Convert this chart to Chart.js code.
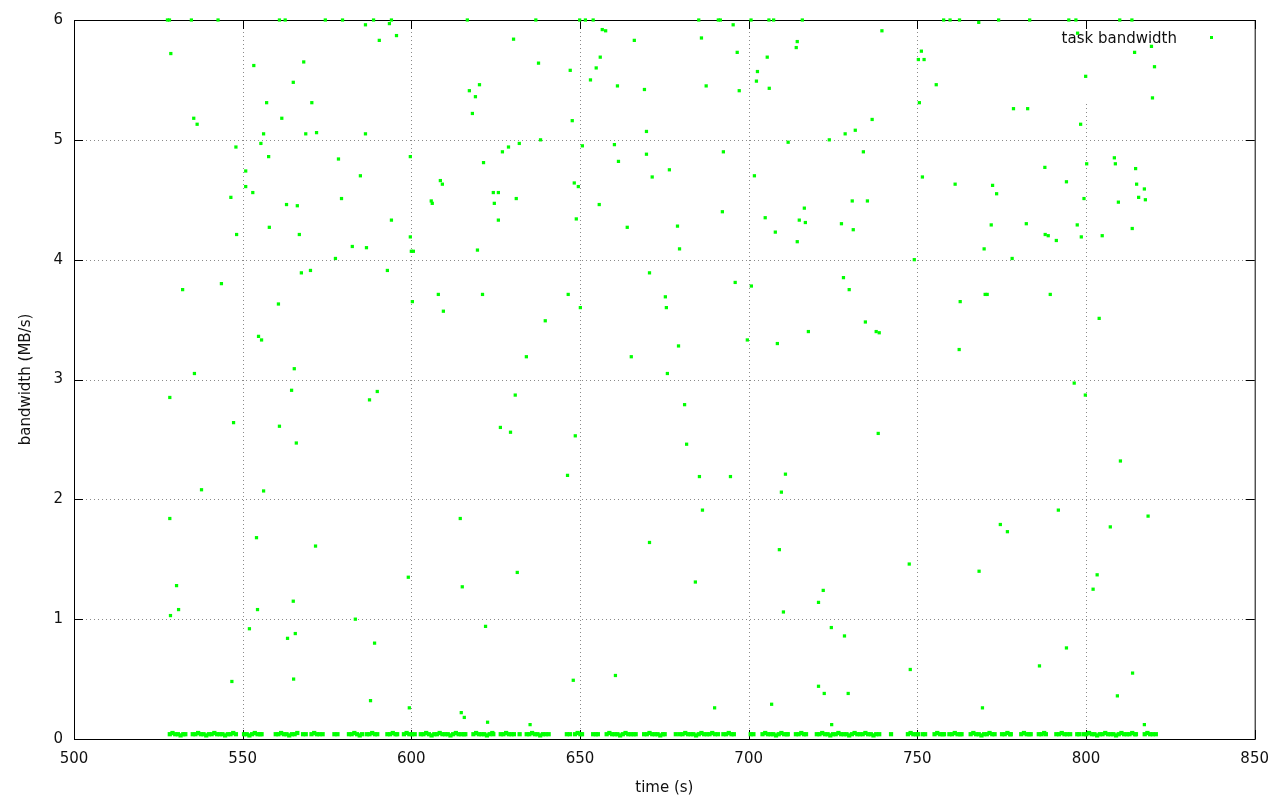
<!DOCTYPE html>
<html><head><meta charset="utf-8">
<script src="https://cdn.jsdelivr.net/npm/chart.js@4/dist/chart.umd.min.js"></script>
<style>html,body{margin:0;padding:0;background:#fff;}</style>
</head><body>
<canvas id="c" width="1280" height="800"></canvas>
<script>
const seriesLabel = 'task bandwidth';
const xTitle = 'time (s)';
const yTitle = 'bandwidth (MB/s)';
const xTickValues = [500, 550, 600, 650, 700, 750, 800, 850];
const yTickValues = [0, 1, 2, 3, 4, 5, 6];

// points pinned at the 6 MB/s ceiling
const topPoints = [[527.7,6],[528.3,6],[534.8,6],[542.7,6],[560.9,6],[562.6,6],[574.5,6],[579.6,6],[588.8,6],[594.1,6],[616.6,6],[636.9,6],[649.9,6],[651.6,6],[653.9,6],[685.2,6],[691.0,6],[691.6,6],[700.7,6],[706.0,6],[707.4,6],[715.9,6],[757.8,6],[759.7,6],[762.5,6],[774.1,6],[783.3,6],[794.9,6],[797.0,6],[810.0,6],[813.6,6],
[586.4,5.96],[593.5,5.97],[656.6,5.92],[657.6,5.91],[695.4,5.96],[739.5,5.91],[768.2,5.98],[797.5,5.89]];

// scattered task samples
const scatterPoints = [[528.7,5.72],[553.3,5.62],[568.1,5.65],[565.0,5.48],[557.1,5.31],[570.5,5.31],[535.5,5.18],[536.5,5.13],[561.6,5.18],[556.2,5.05],[568.7,5.05],[571.9,5.06],[548.0,4.94],[555.4,4.97],[557.7,4.86],[550.9,4.74],[550.9,4.61],[553.0,4.56],[546.5,4.52],
[528.4,2.85],[528.4,1.84],[528.6,1.03],[530.4,1.28],[531.0,1.08],[532.2,3.75],[535.7,3.05],[537.8,2.08],[543.7,3.80],[548.2,4.21],[547.3,2.64],[546.8,0.48],[552.0,0.92],[554.1,1.68],[554.4,1.08],[554.7,3.36],[555.6,3.33],[556.2,2.07],[557.9,4.27],
[560.6,3.63],[560.9,2.61],[563.0,4.46],[563.3,0.84],[564.5,2.91],[565.3,3.09],[565.0,1.15],[565.1,0.50],[565.6,0.88],[565.9,2.47],[566.2,4.45],[566.8,4.21],[567.4,3.89],[570.1,3.91],[571.6,1.61],
[577.5,4.01],[578.4,4.84],[579.3,4.51],[582.5,4.11],[583.4,1.00],[584.9,4.70],[586.4,5.05],[586.7,4.10],[587.6,2.83],[587.9,0.32],[589.1,0.80],[589.9,2.90],[590.5,5.83],[592.9,3.91],[594.1,4.33],[595.6,5.87],[599.1,1.35],[599.4,0.26],[599.7,4.86],[599.7,4.19],[600.0,4.07],[600.6,4.07],[600.3,3.65],
[605.9,4.49],[606.2,4.47],[608.0,3.71],[608.6,4.66],[609.2,4.63],[609.5,3.57],[614.5,1.84],[615.1,1.27],[614.8,0.22],[615.7,0.18],[617.2,5.41],[618.1,5.22],[619.0,5.36],[619.6,4.08],[620.2,5.46],[621.1,3.71],[621.4,4.81],[622.0,0.94],[622.6,0.14],[624.3,4.56],[624.6,4.47],[625.8,4.56],[625.8,4.33],[626.4,2.60],[627.0,4.90],[628.8,4.94],[629.4,2.56],[630.3,5.84],[630.8,2.87],[631.1,4.51],[631.4,1.39],[632.0,4.97],
[634.1,3.19],[635.2,0.12],[637.7,5.64],[638.3,5.00],[639.7,3.49],[646.3,2.20],[646.5,3.71],[647.1,5.58],[648.0,0.49],[647.7,5.16],[648.3,4.64],[648.6,2.53],[648.9,4.34],[649.5,4.61],[650.1,3.60],[650.7,4.95],[653.1,5.50],[654.8,5.60],[655.7,4.46],[656.0,5.69],[660.2,4.96],[660.5,0.53],[661.1,5.45],[661.4,4.82],[664.0,4.27],[665.2,3.19],[666.1,5.83],
[669.1,5.42],[669.7,5.07],[669.7,4.88],[670.6,3.89],[670.6,1.64],[671.4,4.69],[675.3,3.69],[675.6,3.60],[675.9,3.05],[676.5,4.75],[678.9,4.28],[679.2,3.28],[679.5,4.09],[681.0,2.79],[681.6,2.46],[684.2,1.31],[685.4,2.19],[686.0,5.85],[686.3,1.91],[687.4,5.45],[689.9,0.26],[692.2,4.40],[692.5,4.90],[694.6,2.19],[696.0,3.81],[696.6,5.73],[697.2,5.41],[699.6,3.33],
[700.8,3.78],[701.7,4.70],[702.3,5.49],[702.6,5.57],[704.9,4.35],[705.5,5.69],[706.1,5.43],[706.8,0.29],[707.9,4.23],[708.5,3.30],[709.1,1.58],[709.7,2.06],[710.3,1.06],[710.9,2.21],[711.7,4.98],[714.1,5.77],[714.4,5.82],[714.4,4.15],[715.0,4.33],[716.5,4.43],[716.8,4.31],[717.7,3.40],[720.7,1.14],[720.7,0.44],[722.1,1.24],[722.4,0.38],[723.9,5.00],[724.5,0.93],[724.6,0.12],[727.5,4.30],[728.1,3.85],[728.4,0.86],[728.6,5.05],[729.5,0.38],[729.8,3.75],[730.7,4.49],[731.0,4.25],[731.6,5.08],[734.0,4.90],[734.6,3.48],[735.2,4.49],[736.6,5.17],[737.8,3.40],[738.7,3.39],[738.4,2.55],
[747.6,1.46],[747.9,0.58],[749.1,4.00],[750.3,5.67],[750.6,5.31],[751.2,5.74],[751.5,4.69],[752.0,5.67],[755.6,5.46],[761.2,4.63],[762.7,3.65],[762.4,3.25],[769.3,0.26],[768.3,1.40],[769.8,4.09],[770.1,3.71],[770.7,3.71],[771.9,4.29],[772.3,4.62],[773.5,4.55],[774.6,1.79],[776.7,1.73],[778.1,4.01],[778.5,5.26],[782.7,5.26],[782.3,4.30],
[786.2,0.61],[787.8,4.77],[787.9,4.21],[788.8,4.20],[789.4,3.71],[791.2,4.16],[791.8,1.91],[794.2,0.76],[794.2,4.65],[796.5,2.97],[797.4,4.29],[798.4,5.13],[798.6,4.19],[799.4,4.51],[799.8,2.87],[799.9,5.53],[800.2,4.80],[802.1,1.25],[803.3,1.37],[803.9,3.51],[804.8,4.20],[807.2,1.77],[808.4,4.85],[808.7,4.80],[809.3,0.36],[809.6,4.48],[810.2,2.32],[813.8,0.55],[813.7,4.26],[814.4,5.73],[814.7,4.76],[815.0,4.63],[815.6,4.52],[817.3,0.12],[817.3,4.59],[817.6,4.50],[818.4,1.86],[819.4,5.78],[820.3,5.61],[819.7,5.35]];

// near-zero samples along the floor
const floorPoints = [[528.4,.04],[529.2,.05],[530.0,.04],[530.8,.04],[531.6,.03],[532.4,.04],[533.0,.04],
[535.2,.04],[536.0,.04],[536.8,.05],[537.6,.04],[538.4,.04],[539.2,.03],[540.0,.04],[540.8,.04],[541.6,.05],[542.4,.04],[543.2,.04],[544.0,.04],[544.8,.03],[545.6,.04],[546.4,.04],[547.2,.05],[548.0,.04],
[550.4,.04],[551.2,.04],[552.0,.03],[552.8,.04],[553.6,.05],[554.4,.04],[555.2,.04],[555.6,.04],
[559.8,.04],[560.6,.04],[561.4,.05],[562.2,.04],[563.0,.04],[563.8,.03],[564.6,.04],[565.4,.04],[566.2,.05],
[567.9,.04],[568.7,.04],[570.4,.04],[571.2,.05],[572.0,.04],[572.8,.04],[573.7,.04],[577.2,.04],[578.1,.04],
[581.5,.04],[582.3,.04],[583.1,.05],[583.9,.04],[584.7,.03],[585.4,.04],
[586.8,.04],[587.6,.04],[588.4,.05],[589.2,.04],[589.9,.04],
[592.9,.04],[593.7,.04],[594.5,.05],[595.3,.04],[595.8,.04],
[597.8,.04],[598.6,.05],[599.4,.04],[600.2,.04],[601.0,.04],
[602.8,.04],[603.6,.04],[604.4,.05],[605.2,.04],[606.0,.03],[606.8,.04],[607.6,.04],[608.4,.05],[609.2,.04],[610.0,.04],[610.8,.04],[611.6,.03],[612.4,.04],[613.2,.05],[614.0,.04],[614.8,.04],[615.6,.04],[616.0,.04],
[618.4,.04],[619.2,.05],[620.0,.04],[620.8,.04],[621.6,.04],[622.4,.03],[623.2,.04],[624.0,.05],[624.3,.04],
[626.5,.04],[627.3,.04],[628.1,.05],[628.9,.04],[629.7,.04],[630.4,.04],[632.1,.04],
[634.2,.04],[635.0,.04],[635.8,.05],[636.6,.04],[637.4,.04],[638.2,.03],[639.0,.04],[639.8,.04],[640.7,.04],
[646.1,.04],[647.0,.04],[648.5,.04],[649.3,.05],[650.1,.04],[650.6,.04],[653.9,.04],[654.7,.04],[655.3,.04],
[657.9,.04],[658.7,.05],[659.5,.04],[660.3,.04],[661.1,.04],[661.9,.03],[662.7,.04],[663.5,.05],[664.3,.04],[665.1,.04],[665.9,.04],[666.5,.04],
[669.0,.04],[669.8,.04],[670.6,.05],[671.4,.04],[672.2,.04],[673.0,.04],[673.8,.03],[674.6,.04],[675.1,.04],[678.4,.04],
[679.6,.04],[680.4,.04],[681.2,.05],[682.0,.04],[682.8,.04],[683.6,.04],[684.4,.03],[685.2,.04],[686.0,.05],[686.8,.04],[687.6,.04],[688.4,.04],[689.2,.05],[690.0,.04],[690.9,.04],
[692.5,.04],[693.3,.04],[694.1,.05],[694.9,.04],[695.6,.04],[700.6,.04],[701.4,.04],
[704.1,.04],[704.9,.05],[705.7,.04],[706.5,.04],[707.3,.04],[708.1,.03],[708.9,.04],[709.7,.05],[710.5,.04],[711.3,.04],[711.6,.04],
[714.0,.04],[714.8,.04],[715.6,.05],[716.4,.04],[717.0,.04],
[720.2,.04],[721.0,.04],[721.8,.05],[722.6,.04],[723.4,.04],[724.2,.03],[725.0,.04],[725.8,.04],[726.6,.05],[727.4,.04],[728.2,.04],[729.0,.04],[729.8,.03],[730.6,.04],[731.4,.05],[732.2,.04],[733.0,.04],[733.8,.04],[734.6,.05],[735.4,.04],[736.2,.04],[737.0,.03],[737.8,.04],[738.7,.04],
[742.2,.04],[747.2,.04],[748.0,.05],[748.8,.04],[749.6,.04],[750.2,.04],[751.6,.04],[752.3,.04],
[755.1,.04],[755.9,.05],[756.7,.04],[757.5,.04],[757.9,.04],
[759.5,.04],[760.3,.04],[761.1,.05],[761.9,.04],[762.7,.04],[763.1,.04],
[765.8,.04],[766.6,.05],[767.4,.04],[768.2,.04],[769.0,.03],[769.8,.04],[770.6,.04],[771.4,.05],[772.2,.04],[772.9,.04],
[775.1,.04],[775.9,.04],[776.7,.05],[777.5,.04],[777.7,.04],
[780.8,.04],[781.6,.05],[782.4,.04],[783.2,.04],[783.6,.04],
[786.0,.04],[786.8,.04],[787.6,.05],[788.1,.04],
[791.2,.04],[792.0,.04],[792.8,.05],[793.6,.04],[794.4,.04],[795.3,.04],[797.4,.04],[798.0,.04],
[799.3,.04],[800.1,.04],[800.9,.05],[801.7,.04],[802.5,.04],[803.3,.03],[804.1,.04],[804.9,.04],[805.7,.05],[806.5,.04],[807.3,.04],[808.1,.04],[808.9,.03],[809.7,.04],[810.5,.05],[811.3,.04],[812.1,.04],[812.9,.04],[813.7,.05],[814.5,.04],[814.8,.04],
[817.4,.04],[818.2,.05],[819.0,.04],[819.8,.04],[820.7,.04]];

const FONT = "'DejaVu Sans', sans-serif";
const GREEN = '#00ff00';
const toXY = arr => arr.map(p => ({x: p[0], y: p[1]}));

const framePlugin = {
  id: 'frame',
  beforeDatasetsDraw(chart) {
    const {ctx, chartArea: a, scales: {x, y}} = chart;
    ctx.save();
    ctx.lineWidth = 1;
    ctx.strokeStyle = '#8a8a8a';
    ctx.setLineDash([1, 3]);
    const keyLeft = 1040, keyBottom = 104;
    x.ticks.forEach(t => {
      const px = Math.round(x.getPixelForValue(t.value)) + 0.5;
      if (px <= a.left + 1 || px >= a.right - 1) return;
      const top = px > keyLeft ? keyBottom : a.top;
      ctx.beginPath(); ctx.moveTo(px, top); ctx.lineTo(px, a.bottom); ctx.stroke();
    });
    y.ticks.forEach(t => {
      const py = Math.round(y.getPixelForValue(t.value)) + 0.5;
      if (py <= a.top + 1 || py >= a.bottom - 1) return;
      ctx.beginPath(); ctx.moveTo(a.left, py); ctx.lineTo(a.right, py); ctx.stroke();
    });
    ctx.setLineDash([]);
    ctx.strokeStyle = '#000';
    ctx.strokeRect(a.left + 0.5, a.top + 0.5, a.right - a.left, a.bottom - a.top);
    const L = 9;
    ctx.beginPath();
    x.ticks.forEach(t => {
      const px = Math.round(x.getPixelForValue(t.value)) + 0.5;
      ctx.moveTo(px, a.bottom); ctx.lineTo(px, a.bottom - L);
      ctx.moveTo(px, a.top); ctx.lineTo(px, a.top + L);
    });
    y.ticks.forEach(t => {
      const py = Math.round(y.getPixelForValue(t.value)) + 0.5;
      ctx.moveTo(a.left, py); ctx.lineTo(a.left + L, py);
      ctx.moveTo(a.right, py); ctx.lineTo(a.right - L, py);
    });
    ctx.stroke();
    ctx.restore();
  },
  afterDatasetsDraw(chart) {
    const {ctx} = chart;
    const ds = chart.data.datasets[0];
    ctx.save();
    ctx.font = '15px ' + FONT;
    ctx.fillStyle = '#111';
    ctx.textAlign = 'right';
    ctx.textBaseline = 'alphabetic';
    ctx.fillText(ds.label, 1177, 43);
    ctx.fillStyle = ds.backgroundColor;
    ctx.fillRect(1210, 36, 3, 3);
    ctx.restore();
  }
};

const pointStyleOpts = {backgroundColor: GREEN, borderColor: GREEN, borderWidth: 0, pointStyle: 'rect', clip: false};

new Chart(document.getElementById('c'), {
  type: 'scatter',
  data: {
    datasets: [
      Object.assign({label: seriesLabel, data: toXY(scatterPoints.concat(topPoints)), pointRadius: 2.3}, pointStyleOpts),
      Object.assign({label: seriesLabel, data: toXY(floorPoints), pointRadius: 3.0}, pointStyleOpts)
    ]
  },
  options: {
    responsive: false,
    animation: false,
    events: [],
    devicePixelRatio: 1,
    layout: {padding: {top: 20, right: 25, left: 0, bottom: 0}},
    plugins: {legend: {display: false}, tooltip: {enabled: false}},
    scales: {
      x: {
        type: 'linear', min: 500, max: 850,
        afterBuildTicks: s => { s.ticks = xTickValues.map(v => ({value: v})); },
        afterFit: s => { s.height = 61; },
        grid: {display: false, drawTicks: false},
        border: {display: false},
        ticks: {color: '#111', font: {family: FONT, size: 15}, padding: 11, maxRotation: 0, autoSkip: false},
        title: {display: true, text: xTitle, color: '#111', font: {family: FONT, size: 15}, padding: {top: 0, bottom: 3}}
      },
      y: {
        type: 'linear', min: 0, max: 6,
        afterBuildTicks: s => { s.ticks = yTickValues.map(v => ({value: v})); },
        afterFit: s => { s.width = 74; },
        grid: {display: false, drawTicks: false},
        border: {display: false},
        ticks: {color: '#111', font: {family: FONT, size: 15}, padding: 11, autoSkip: false},
        title: {display: true, text: yTitle, color: '#111', font: {family: FONT, size: 15}, padding: {top: 17, bottom: 0}}
      }
    }
  },
  plugins: [framePlugin]
});
</script>
</body></html>
